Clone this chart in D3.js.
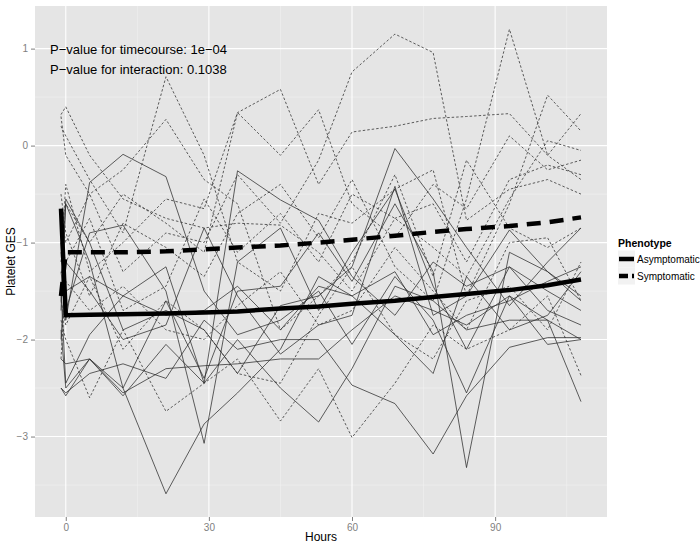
<!DOCTYPE html>
<html><head><meta charset="utf-8">
<script src="https://cdn.jsdelivr.net/npm/d3@7"></script>
<style>body{margin:0;background:#fff}svg{display:block;font-family:"Liberation Sans",Arial,sans-serif}</style>
</head><body><svg id="c" width="700" height="547"></svg>
<script>
// ---- data ----
const hours = [-1, 0, 5, 12, 21, 29, 36, 45, 53, 60, 69, 77, 84, 93, 101, 108];
const xTicks = [0, 30, 60, 90];
const yTicks = [-3, -2, -1, 0, 1];
const phenotypes = ["Asymptomatic", "Symptomatic"];
// individual subjects (values aligned with hours)
const asymptomatic = [
  [-1.9,-2.5,-2.2,-2.5,-3.59,-2.87,-2.55,-2.1,-1.35,-1.55,-1.3,-1.95,-1.75,-1.6,-1.4,-1.25],
  [-1.3,-1.7,-0.9,-0.82,-1.5,-3.07,-1.2,-0.85,-1.7,-1.1,-0.45,-1.45,-2.1,-1.25,-1.7,-1.85],
  [-2.5,-2.55,-2.35,-2.25,-2.4,-1.8,-2.1,-2.0,-2.0,-2.47,-2.66,-3.18,-2.58,-2.08,-1.98,-1.98],
  [-1.6,-0.6,-1.2,-2.5,-1.6,-2.4,-1.5,-1.45,-0.9,-1.4,-0.6,-1.3,-3.32,-1.1,-1.3,-1.55],
  [-1.0,-1.8,-0.38,-0.09,-0.32,-1.5,-1.95,-1.8,-1.5,-2.05,-1.35,-1.8,-2.55,-1.55,-1.8,-2.64],
  [-1.5,-2.45,-1.95,-1.55,-1.25,-2.45,-0.26,-0.56,-0.77,-1.35,-1.75,-1.2,-1.45,-1.25,-1.5,-1.7],
  [-1.7,-0.55,-1.0,-1.9,-1.7,-1.9,-2.35,-1.65,-1.55,-1.25,-0.03,-0.55,-1.05,-1.65,-1.2,-0.85],
  [-2.2,-2.25,-2.2,-2.55,-2.3,-2.27,-2.25,-2.2,-2.2,-1.9,-1.55,-1.7,-1.85,-1.55,-2.05,-2.0],
  [-2.0,-1.2,-1.5,-2.0,-1.85,-0.85,-1.55,-2.15,-1.85,-1.75,-0.42,-1.75,-1.55,-0.87,-1.3,-1.6],
  [-2.5,-2.58,-2.2,-2.58,-2.05,-2.45,-2.0,-2.5,-2.85,-2.3,-1.45,-1.6,-1.9,-1.8,-1.8,-2.0],
  [-1.1,-1.5,-1.35,-1.55,-1.75,-1.7,-1.45,-1.9,-1.45,-1.55,-1.95,-2.35,-1.35,-1.9,-1.75,-1.3]
];
const symptomatic = [
  [0.3,-0.1,-0.5,-1.3,-0.9,-1.0,-0.3,-0.8,-0.15,0.76,1.15,0.96,-0.77,-0.45,-0.35,-0.5],
  [-0.5,-0.9,-1.55,-0.8,-1.05,-1.35,-0.7,-0.4,-0.95,-0.35,-1.25,-1.6,-0.55,1.2,-0.1,0.33],
  [0.2,0.1,-0.35,-0.9,0.71,-0.1,-1.2,-1.5,-0.7,-0.8,-0.45,-0.25,-1.55,-0.6,0.52,0.15],
  [0.32,0.4,-0.1,-0.55,-0.75,-0.85,-0.8,-0.82,-1.1,-1.5,-0.75,-0.6,-1.2,-0.35,-0.2,-0.3],
  [-1.2,-0.4,-1.3,-1.0,-0.55,-0.65,0.34,0.58,-0.4,0.14,0.2,0.28,0.3,0.33,-0.1,-0.35],
  [-1.8,-2.0,-2.6,-1.9,-2.74,-2.45,-2.2,-2.84,-2.3,-3.01,-2.45,-1.85,-2.1,-1.9,-1.55,-2.37],
  [-0.7,-1.0,-0.5,-0.25,0.27,-0.35,-0.6,-1.9,-1.55,-1.2,-0.3,-1.35,-0.15,-0.85,-1.05,-0.85],
  [-1.6,-1.85,-1.35,-2.1,-1.6,-1.9,-2.35,-2.45,-1.75,-1.25,-1.95,-2.2,-1.6,-1.45,-1.9,-1.2],
  [-0.9,-0.6,-1.0,-0.5,-0.8,-1.1,0.34,-0.1,0.37,-0.6,-0.95,-0.4,-0.65,0.1,-0.25,-0.15],
  [-2.2,-1.4,-1.7,-1.45,-1.9,-2.0,-1.65,-1.3,-1.85,-1.7,-1.05,-1.5,-1.9,-1.0,-0.95,-1.6],
  [-1.0,-1.2,-0.75,-1.7,-1.45,-0.55,-1.1,-0.7,-1.2,-0.5,-0.75,-1.05,-1.35,-0.55,0.05,-0.05]
];
// fitted group means
const meanAsymptomatic = [-0.65,-1.75,-1.745,-1.74,-1.73,-1.72,-1.71,-1.68,-1.66,-1.63,-1.6,-1.56,-1.53,-1.49,-1.44,-1.38];
const meanSymptomatic  = [-1.55,-1.1,-1.1,-1.1,-1.09,-1.07,-1.05,-1.03,-1.0,-0.97,-0.93,-0.89,-0.86,-0.83,-0.79,-0.74];
const annotations = ["P\u2212value for timecourse: 1e\u221204", "P\u2212value for interaction: 0.1038"];

// ---- layout ----
const svg = d3.select("#c");
const L = 35, R = 607, T = 6, B = 517;
const xExt = d3.extent(hours), xPad = (xExt[1]-xExt[0])*0.05;
const allY = asymptomatic.flat().concat(symptomatic.flat());
const yExt = d3.extent(allY), yPad = (yExt[1]-yExt[0])*0.05;
const x = d3.scaleLinear().domain([xExt[0]-xPad, xExt[1]+xPad]).range([L, R]);
const y = d3.scaleLinear().domain([yExt[0]-yPad, yExt[1]+yPad]).range([B, T]);

svg.append("rect").attr("x",L).attr("y",T).attr("width",R-L).attr("height",B-T).attr("fill","#e5e5e5");
// minor grid
const xMinor = [15,45,75,105].filter(v=>v>=x.domain()[0]&&v<=x.domain()[1]);
const yMinor = [-3.5,-2.5,-1.5,-0.5,0.5].filter(v=>v>=y.domain()[0]&&v<=y.domain()[1]);
const g = svg.append("g");
g.selectAll(".xm").data(xMinor).join("line").attr("x1",d=>x(d)).attr("x2",d=>x(d)).attr("y1",T).attr("y2",B).attr("stroke","#f2f2f2").attr("stroke-width",0.6);
g.selectAll(".ym").data(yMinor).join("line").attr("x1",L).attr("x2",R).attr("y1",d=>y(d)).attr("y2",d=>y(d)).attr("stroke","#f2f2f2").attr("stroke-width",0.6);
g.selectAll(".xM").data(xTicks).join("line").attr("x1",d=>x(d)).attr("x2",d=>x(d)).attr("y1",T).attr("y2",B).attr("stroke","#fff").attr("stroke-width",1.1);
g.selectAll(".yM").data(yTicks).join("line").attr("x1",L).attr("x2",R).attr("y1",d=>y(d)).attr("y2",d=>y(d)).attr("stroke","#fff").attr("stroke-width",1.1);

// axes
const xa = svg.append("g").attr("transform",`translate(0,${B})`).call(d3.axisBottom(x).tickValues(xTicks).tickSize(4).tickPadding(3).tickFormat(d3.format("d")));
const ya = svg.append("g").attr("transform",`translate(${L},0)`).call(d3.axisLeft(y).tickValues(yTicks).tickSize(4).tickPadding(3).tickFormat(d=>String(d).replace("-","\u2212")));
[xa,ya].forEach(a=>{a.select(".domain").remove();a.selectAll("line").attr("stroke","#7f7f7f");a.selectAll("text").attr("fill","#7f7f7f").attr("font-size",10).attr("font-family","Liberation Sans, Arial, sans-serif");});

// lines
const line = d3.line().defined(d=>d[1]!=null).x(d=>x(d[0])).y(d=>y(d[1]));
const toPts = arr => hours.map((h,i)=>[h,arr[i]]);
const lg = svg.append("g");
asymptomatic.forEach(s=>lg.append("path").attr("d",line(toPts(s))).attr("fill","none").attr("stroke","#2b2b2b").attr("stroke-width",0.75));
symptomatic.forEach(s=>lg.append("path").attr("d",line(toPts(s))).attr("fill","none").attr("stroke","#2b2b2b").attr("stroke-width",0.75).attr("stroke-dasharray","2.5,2"));
lg.append("path").attr("d",line(toPts(meanAsymptomatic))).attr("fill","none").attr("stroke","#000").attr("stroke-width",4.5);
lg.append("path").attr("d",line(toPts(meanSymptomatic))).attr("fill","none").attr("stroke","#000").attr("stroke-width",4.5).attr("stroke-dasharray","14,9");

// annotations
svg.selectAll(".ann").data(annotations).join("text").attr("x",50).attr("y",(d,i)=>54+i*20).attr("font-size",13).attr("fill","#000").text(d=>d);

// axis titles
svg.append("text").attr("x",(L+R)/2).attr("y",541).attr("text-anchor","middle").attr("font-size",12).text("Hours");
svg.append("text").attr("transform",`translate(15,${(T+B)/2}) rotate(-90)`).attr("text-anchor","middle").attr("font-size",12).text("Platelet GES");

// legend
const leg = svg.append("g").attr("transform","translate(618,0)");
leg.append("text").attr("x",0).attr("y",247).attr("font-size",10.5).attr("font-weight","bold").text("Phenotype");
phenotypes.forEach((p,i)=>{
  const cy = 259 + i*17;
  leg.append("rect").attr("x",0).attr("y",cy-8.5).attr("width",17).attr("height",17).attr("fill","#f2f2f2");
  leg.append("line").attr("x1",1).attr("x2",16).attr("y1",cy).attr("y2",cy).attr("stroke","#000").attr("stroke-width",4.5).attr("stroke-dasharray",i===0?null:"9,4");
  leg.append("text").attr("x",19).attr("y",cy+4).attr("font-size",10).text(p);
});
</script></body></html>
